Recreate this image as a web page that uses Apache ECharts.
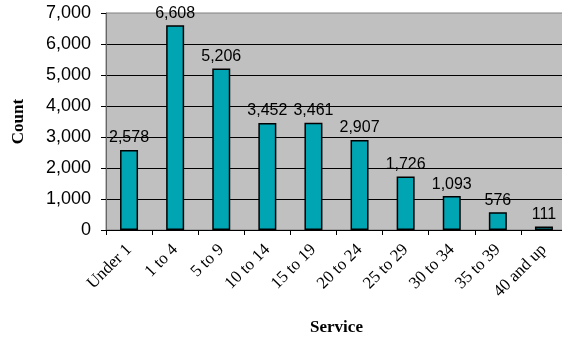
<!DOCTYPE html>
<html>
<head>
<meta charset="utf-8">
<script src="https://cdn.jsdelivr.net/npm/echarts@6/dist/echarts.min.js"></script>
<style>
  html, body { margin: 0; padding: 0; background: #ffffff; }
  #chart { width: 562px; height: 339px; }
</style>
</head>
<body>
<div id="chart"></div>
<script>
// Years-of-service buckets and head counts
const categories = ['Under 1', '1 to 4', '5 to 9', '10 to 14', '15 to 19', '20 to 24', '25 to 29', '30 to 34', '35 to 39', '40 and up'];
const counts = [2578, 6608, 5206, 3452, 3461, 2907, 1726, 1093, 576, 111];
const yTicks = { min: 0, max: 7000, interval: 1000 };

const sans = 'Liberation Sans, Arial, sans-serif';
const serif = 'Liberation Serif, Times New Roman, serif';

const chart = echarts.init(document.getElementById('chart'), null, { renderer: 'canvas' });
chart.setOption({
  animation: false,
  backgroundColor: '#ffffff',
  grid: {
    left: 106, top: 13, right: -5, bottom: 109,
    outerBoundsMode: 'none', containLabel: false,
    show: true, backgroundColor: '#C0C0C0', borderColor: '#808080', borderWidth: 1
  },
  xAxis: {
    type: 'category',
    data: categories,
    name: 'Service',
    nameLocation: 'middle',
    nameGap: 89,
    nameTextStyle: { fontFamily: serif, fontWeight: 'bold', fontSize: 17, color: '#000' },
    axisLine: { lineStyle: { color: '#000', width: 1 } },
    axisTick: { show: true, length: 5, lineStyle: { color: '#000' } },
    axisLabel: {
      rotate: 45, interval: 0, margin: 17,
      fontFamily: serif, fontSize: 17, color: '#000'
    }
  },
  yAxis: {
    type: 'value',
    min: yTicks.min, max: yTicks.max, interval: yTicks.interval,
    name: 'Count',
    nameLocation: 'middle',
    nameGap: 79,
    nameRotate: 90,
    nameTextStyle: { fontFamily: serif, fontWeight: 'bold', fontSize: 17, color: '#000' },
    axisLine: { show: true, lineStyle: { color: '#666', width: 1 } },
    axisTick: { show: true, length: 5, lineStyle: { color: '#000' } },
    axisLabel: {
      margin: 15, fontFamily: sans, fontSize: 18, color: '#000',
      formatter: v => v.toLocaleString('en-US')
    },
    splitLine: { show: true, showMaxLine: false, lineStyle: { color: '#000', width: 1 } }
  },
  series: [{
    type: 'bar',
    data: counts,
    barWidth: 18,
    itemStyle: { color: '#00A5B4', borderColor: '#000', borderWidth: 1.5 },
    label: {
      show: true, position: 'top', distance: 4,
      fontFamily: sans, fontSize: 16, color: '#000',
      formatter: p => p.value.toLocaleString('en-US')
    }
  }]
});
</script>
</body>
</html>
